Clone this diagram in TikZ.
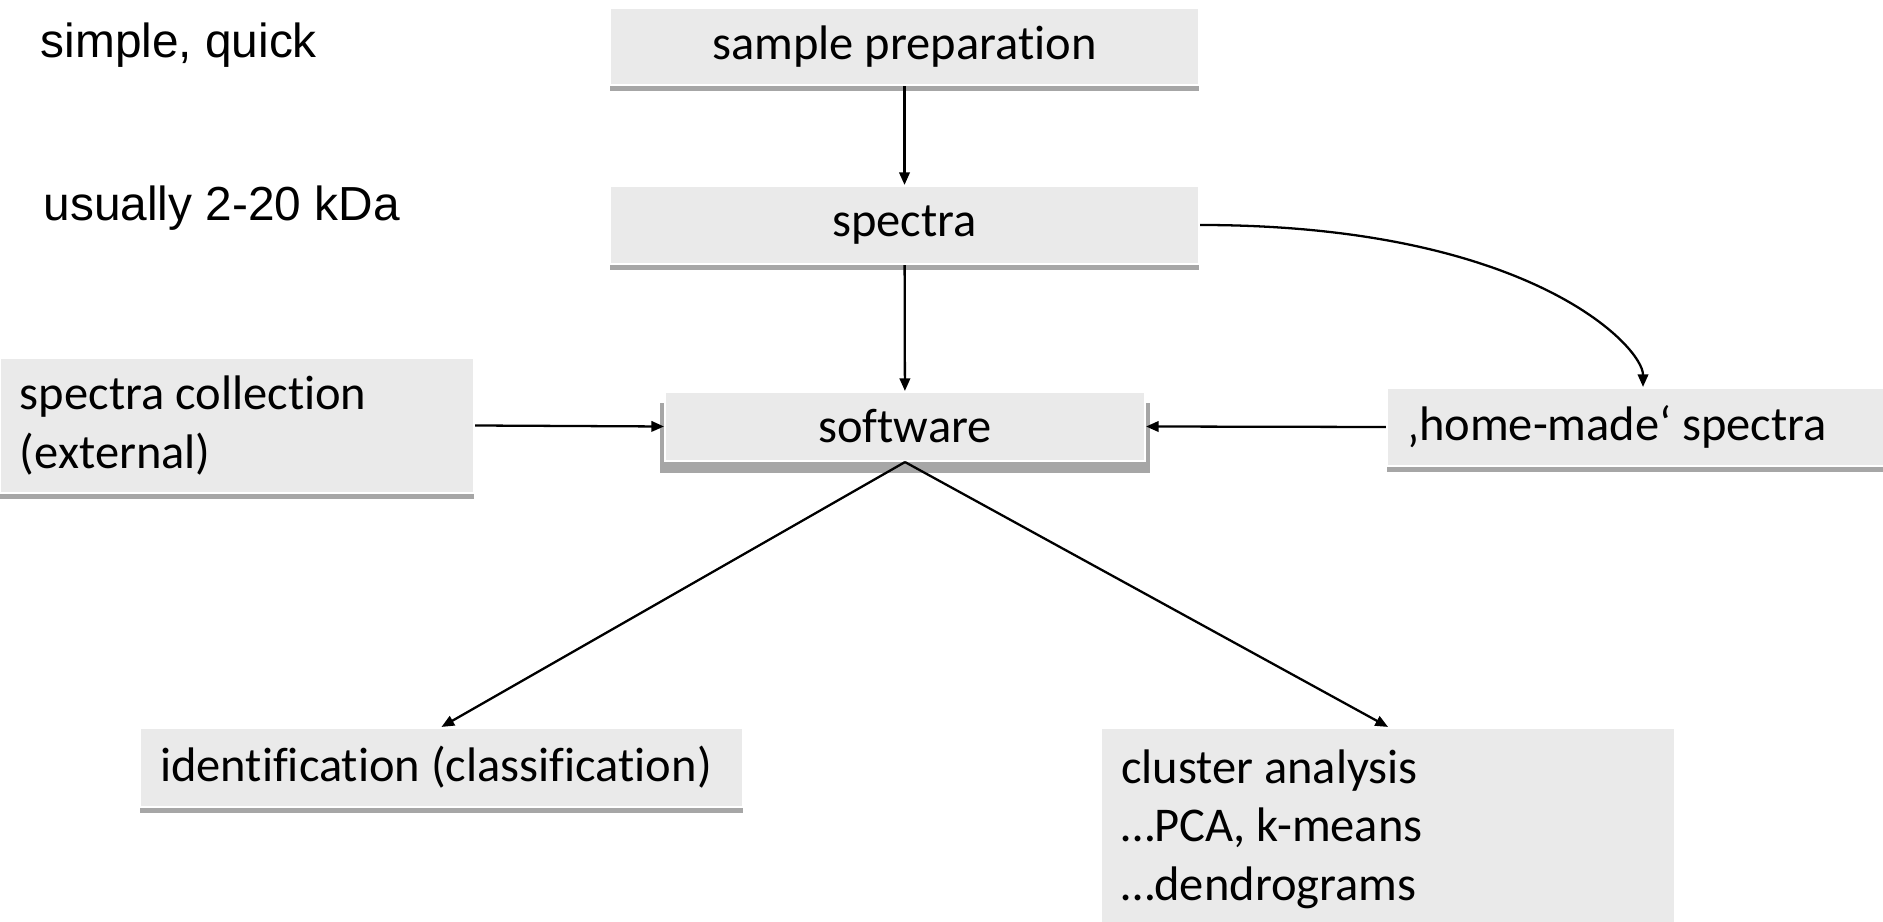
\documentclass[tikz,border=0pt]{standalone}
\usepackage{fontspec}
\setmainfont{Carlito}[Ligatures=NoCommon]
\newfontfamily\arialfont{Liberation Sans}
\usetikzlibrary{arrows.meta,shadows}
\definecolor{boxgray}{HTML}{EAEAEA}
\definecolor{shadowgray}{HTML}{A6A6A6}

\begin{document}
\begin{tikzpicture}[scale=1,
    font=\fontsize{13.8}{16.6}\selectfont,
    boxbase/.style={fill=boxgray, draw=white, line width=0.6pt, inner sep=0pt},
    box/.style={boxbase, drop shadow={shadow xshift=0pt, shadow yshift=-0.06cm, opacity=1, fill=shadowgray}},
    softbox/.style={boxbase, drop shadow={shadow xshift=0pt, shadow yshift=-0.11cm, shadow scale=1.02, opacity=1, fill=shadowgray}},
    leftbox/.style={box, align=left, inner xsep=0.2cm, execute at begin node={\spaceskip=0pt\xspaceskip=0pt\relax}},
    link/.style={-{Triangle[length=3.6pt,width=3pt]}, line width=0.65pt},
    note/.style={font=\arialfont\fontsize{13.6}{16.6}\selectfont, anchor=west, inner sep=0pt}]

            \useasboundingbox (0,0) rectangle (18.83,-9.22);

            %boxes
            \node[box, minimum width=5.89cm, minimum height=0.77cm] (prep) at (9.045,-0.465) {sample preparation};

            \node[box, minimum width=5.89cm, minimum height=0.78cm] (spectra) at (9.045,-2.25) {spectra};

            \node[softbox, minimum width=4.80cm, minimum height=0.69cm] (software) at (9.05,-4.265) {software};

            \node[leftbox, text width=4.34cm, minimum height=1.35cm] (collection) at (2.37,-4.255) {spectra collection\\(external)};

            \node[leftbox, text width=4.72cm, minimum height=0.78cm] (homemade) at (16.43,-4.27) {‚home-made‘ spectra};

            \node[leftbox, text width=5.63cm, minimum height=0.79cm] (ident) at (4.415,-7.675) {identification (classification)};

            \node[leftbox, text width=5.34cm, minimum height=2.02cm] (cluster) at (13.88,-8.29) {cluster analysis\\…PCA, k-means\\…dendrograms};

            %notes
            \node[note] (simple) at (0.40,-0.45) {simple, quick};

            \node[note] (usually) at (0.43,-2.08) {usually 2-20 kDa};

            %arrows
            \draw[link] (prep) -- (spectra);

            \draw[link] (spectra) -- (software);

            \draw[link] (spectra.east) .. controls +(3.3,0) and +(0,0.4) .. (homemade.north);

            \draw[link] (collection.east) -- (software.west);

            \draw[link] (homemade.west) -- (software.east);

            \draw[link] (software.south) -- (ident.north);

            \draw[link] (software.south) -- (cluster.north);
        \end{tikzpicture}
\end{document}
